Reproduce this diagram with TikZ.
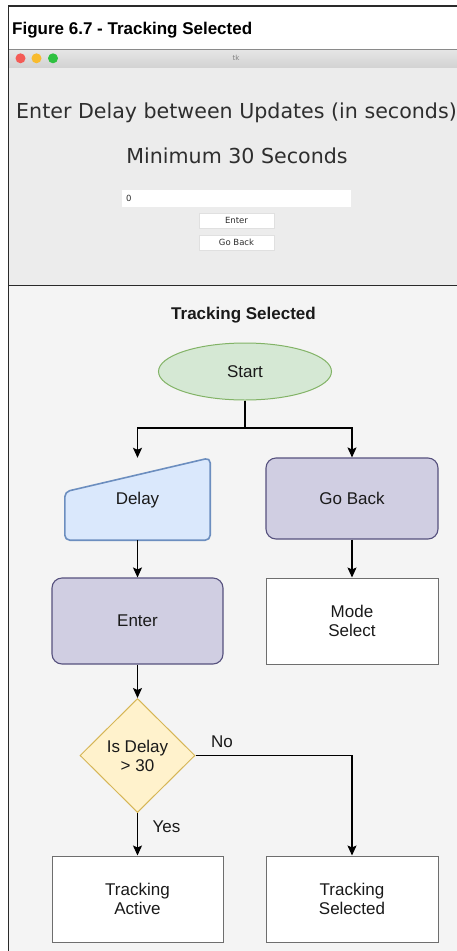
\documentclass[tikz,border=0pt]{standalone}
\usepackage{fontspec}
\setmainfont{Liberation Sans}
\newfontfamily\tkfont{DejaVu Sans}
\usetikzlibrary{shapes.geometric,arrows.meta,calc}

\definecolor{framec}{HTML}{2A2A2A}
\definecolor{barline}{HTML}{8A8A8A}
\definecolor{bartop}{HTML}{E6E6E6}
\definecolor{barbot}{HTML}{D2D2D2}
\definecolor{winbg}{HTML}{ECECEC}
\definecolor{panelbg}{HTML}{F4F4F4}
\definecolor{tktext}{HTML}{2E2E2E}
\definecolor{btnline}{HTML}{E0E0E0}
\definecolor{dotred}{HTML}{F45B56}
\definecolor{dotyellow}{HTML}{F8BB2E}
\definecolor{dotgreen}{HTML}{2EC140}
\definecolor{txt}{HTML}{1A1A1A}
\definecolor{startfill}{HTML}{D5E8D4}
\definecolor{startline}{HTML}{82B366}
\definecolor{inputfill}{HTML}{DAE8FC}
\definecolor{inputline}{HTML}{6C8EBF}
\definecolor{procfill}{HTML}{D0CEE2}
\definecolor{procline}{HTML}{56517E}
\definecolor{decfill}{HTML}{FFF2CC}
\definecolor{decline}{HTML}{D6B656}
\definecolor{boxline}{HTML}{6E6E6E}

\tikzset{
  flowtxt/.style={font=\fontsize{17}{19}\selectfont, text=txt, align=center},
  procbox/.style={flowtxt, draw=procline, fill=procfill, rounded corners=10pt,
    minimum width=172pt, minimum height=86pt, line width=1.1pt, inner sep=0pt},
  plainbox/.style={flowtxt, draw=boxline, fill=white,
    minimum width=172pt, minimum height=86pt, line width=1pt, inner sep=0pt},
  conn/.style={-{Stealth[length=10pt,width=9pt,inset=2pt]}, line width=1.2pt, draw=black},
  lbl/.style={flowtxt, inner sep=0pt},
  tkbtn/.style={fill=white, draw=btnline, line width=0.5pt, minimum width=75pt,
    minimum height=15pt, inner sep=0pt, font=\tkfont\fontsize{8.5}{10}\selectfont, text=tktext},
  tkdot/.style={circle, minimum size=10pt, inner sep=0pt}
}

\begin{document}
\begin{tikzpicture}[x=1pt,y=-1pt]
\useasboundingbox (0,0) rectangle (457,951);
\fill[white] (0,0) rectangle (457,951);

% caption strip
\node[anchor=base west, inner sep=0pt, font=\bfseries\fontsize{17}{19}\selectfont, text=black]
  (caption) at (12,34) {Figure 6.7 - Tracking Selected};

% tk window: title bar
\shade[top color=bartop, bottom color=barbot] (8,49) rectangle (457,68);
\draw[barline, line width=1pt] (8,49) -- (457,49);
\node[tkdot, fill=dotred] (dr) at (20.5,58.3) {};
\node[tkdot, fill=dotyellow] (dy) at (36.5,58.3) {};
\node[tkdot, fill=dotgreen] (dg) at (53,58.3) {};
\node[font=\tkfont\fontsize{7}{8}\selectfont, text=gray] (tkname) at (236,58.3) {tk};

% tk window: content
\fill[winbg] (8,68) rectangle (457,285);
\node[anchor=base, inner sep=0pt, font=\tkfont\fontsize{20.6}{24}\selectfont, text=tktext]
  (prompt) at (236.5,118) {Enter Delay between Updates (in seconds)};
\node[anchor=base, inner sep=0pt, font=\tkfont\fontsize{20.6}{24}\selectfont, text=tktext]
  (minimum) at (237,163) {Minimum 30 Seconds};
\fill[white] (122,190) rectangle (351,207);
\node[anchor=west, inner sep=0pt, font=\tkfont\fontsize{8.5}{10}\selectfont, text=tktext]
  (entry) at (126,198.5) {0};
\node[tkbtn] (btnenter) at (236.5,220.5) {Enter};
\node[tkbtn] (btnback) at (236.5,242.5) {Go Back};

% flowchart panel
\fill[panelbg] (8,286) rectangle (457,951);
\draw[framec, line width=1.8pt] (8,285.5) -- (457,285.5);

% outer frame
\draw[framec, line width=1.2pt] (8.5,951) -- (8.5,6) -- (457,6);

\node[font=\bfseries\fontsize{17}{19}\selectfont, text=txt] (heading) at (243.5,315) {Tracking Selected};

\node[flowtxt, ellipse, draw=startline, fill=startfill, line width=1pt,
  minimum width=173pt, minimum height=57pt, inner sep=0pt] (start) at (245,371.5) {Start};

\node[flowtxt, minimum width=145pt, minimum height=82pt, inner sep=0pt] (delay) at (137.5,499) {};
\draw[draw=inputline, fill=inputfill, line width=1.6pt, rounded corners=5pt]
  (delay.south west) -- ($(delay.north west)+(0,34)$) -- (delay.north east)
  -- (delay.south east) -- cycle;
\node[lbl] (delaytext) at (137.5,500) {Delay};

\node[procbox, minimum height=81pt] (goback) at (352,498.5) {Go Back};
\node[procbox, minimum width=171pt] (enter) at (137.5,621) {Enter};
\node[plainbox] (modesel) at (352,621) {Mode\\Select};

\node[flowtxt, diamond, draw=decline, fill=decfill, line width=1pt,
  minimum width=115pt, minimum height=114pt, inner sep=0pt] (decide) at (137.5,755.5) {Is Delay\\> 30};

\node[plainbox, minimum width=171pt] (trackact) at (137.5,899) {Tracking\\Active};
\node[plainbox] (tracksel) at (352,899) {Tracking\\Selected};

% connectors
\coordinate (split) at (245,428);
\draw[line width=1.2pt] (start.south) -- (split);
\draw[conn] (split) -| (delay.north);
\draw[conn] (split) -| (goback.north);
\draw[conn] (delay.south) -- (enter.north);
\draw[conn] (goback.south) -- (modesel.north);
\draw[conn] (enter.south) -- (decide.north);
\draw[conn] (decide.east) -| (tracksel.north);
\draw[conn] (decide.south) -- (trackact.north);
\node[lbl] (nolbl) at (222,742) {No};
\node[lbl] (yeslbl) at (166.5,827) {Yes};
\end{tikzpicture}
\end{document}
